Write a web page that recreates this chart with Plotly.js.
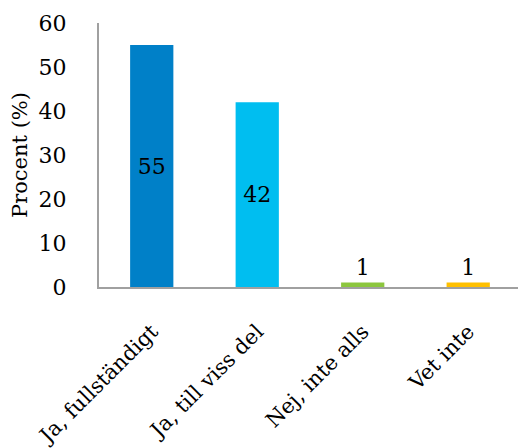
<!DOCTYPE html>
<html><head><meta charset="utf-8">
<script src="https://cdn.plot.ly/plotly-3.0.1.min.js"></script>
<style>html,body{margin:0;padding:0;background:#fff;}#chart{width:518px;height:448px;}</style>
</head><body><div id="chart"></div>
<script>
const categories = ["Ja, fullständigt", "Ja, till viss del", "Nej, inte alls", "Vet inte"];
const values = [55, 42, 1, 1];
const labels = ["55", "42", "1", "1"];
const colors = ["#0080C8", "#00BEF0", "#8CC63E", "#FFC000"];
const textPositions = ["inside", "inside", "outside", "outside"];
const yTicks = [0, 10, 20, 30, 40, 50, 60];

const fontFam = "DejaVu Serif";
const trace = {
  type: "bar",
  x: categories,
  y: values,
  text: labels,
  textposition: textPositions,
  insidetextanchor: "middle",
  textangle: 0,
  cliponaxis: false,
  marker: {color: colors, line: {width: 0}},
  textfont: {family: fontFam, size: 22, color: "#000"},
  insidetextfont: {family: fontFam, size: 22, color: "#000"},
  outsidetextfont: {family: fontFam, size: 22, color: "#000"},
  hoverinfo: "none"
};
const layout = {
  width: 518, height: 448,
  margin: {l: 99, r: 0, t: 23, b: 161, pad: 0},
  paper_bgcolor: "#fff", plot_bgcolor: "#fff",
  showlegend: false,
  bargap: 0.59,
  font: {family: fontFam, size: 22, color: "#000"},
  xaxis: {
    type: "category",
    range: [-0.5, 3.472],
    tickangle: -45,
    showline: true, linecolor: "#a0a0a0", linewidth: 2,
    showgrid: false, zeroline: false, ticks: "",
    ticklabelstandoff: 22,
    tickfont: {family: fontFam, size: 21, color: "#000"}
  },
  yaxis: {
    range: [0, 60],
    tickvals: yTicks,
    ticktext: yTicks.map(String),
    showline: true, linecolor: "#a0a0a0", linewidth: 2,
    showgrid: false, zeroline: false, ticks: "",
    ticklabelstandoff: 26,
    tickfont: {family: fontFam, size: 22, color: "#000"},
    title: {text: "Procent (%)", font: {family: fontFam, size: 21, color: "#000"}, standoff: 5}
  }
};
Plotly.newPlot("chart", [trace], layout, {displayModeBar: false, staticPlot: true});
</script></body></html>
